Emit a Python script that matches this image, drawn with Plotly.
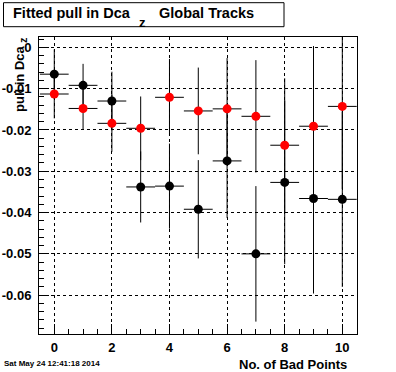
import plotly.graph_objects as go

# ---- data ----
n_bad = [0, 1, 2, 3, 4, 5, 6, 7, 8, 9, 10]
x_half_width = [0.5] * 11

black_pull = [-0.0065, -0.0092, -0.0130, -0.0338, -0.0336, -0.0392,
              -0.0275, -0.0500, -0.0327, -0.0366, -0.0368]
black_err = [0.0060, 0.0052, 0.0071, 0.0086, 0.0103, 0.0119,
             0.0138, 0.0164, 0.0198, 0.0230, 0.0212]

red_pull = [-0.0113, -0.0148, -0.0184, -0.0196, -0.0121, -0.0154,
            -0.0149, -0.0167, -0.0237, -0.0191, -0.0143]
red_err = [0.0059, 0.0052, 0.0069, 0.0077, 0.0093, 0.0105,
           0.0123, 0.0136, 0.0162, 0.0194, 0.0200]

x_tickvals = [0, 2, 4, 6, 8, 10]
x_ticktext = ["0", "2", "4", "6", "8", "10"]
y_tickvals = [0, -0.01, -0.02, -0.03, -0.04, -0.05, -0.06]
y_ticktext = ["0", "-0.01", "-0.02", "-0.03", "-0.04", "-0.05", "-0.06"]

title_main = "Fitted pull in Dca"
title_sub = "z"
title_rest = "Global Tracks"
x_title = "No. of Bad Points"
y_title = "pull in Dca"
y_title_sub = "z"
date_text = "Sat May 24 12:41:18 2014"

FONT = "Liberation Sans, Arial, Helvetica, sans-serif"

W, H = 396, 372
L, R, T, B = 39, 357, 37, 334  # plot frame in pixels


def px(xp):
    return (xp - L) / (R - L)


def py(yp):
    return (B - yp) / (B - T)


fig = go.Figure()
for yv, ev, col in [(black_pull, black_err, "black"), (red_pull, red_err, "#ff0000")]:
    fig.add_trace(go.Scatter(
        x=n_bad, y=yv, mode="markers",
        marker=dict(color=col, size=9, line=dict(width=0)),
        error_y=dict(type="data", array=ev, color="black", thickness=1, width=0),
        error_x=dict(type="data", array=x_half_width, color="black", thickness=1, width=0),
        showlegend=False, hoverinfo="skip",
    ))

axis_common = dict(
    automargin=False,
    showline=True, mirror=True, linecolor="black", linewidth=1,
    ticks="inside", ticklen=10, tickcolor="black", tickwidth=1,
    showgrid=True, gridcolor="black", gridwidth=1, griddash="dot",
    zeroline=False,
    tickfont=dict(family=FONT, size=13, color="black", weight="bold"),
)

fig.update_xaxes(
    range=[-0.53, 10.51],
    tickmode="array", tickvals=x_tickvals, ticktext=x_ticktext,
    ticklabelstandoff=1,
    minor=dict(ticks="inside", ticklen=5, tickcolor="black", tickwidth=1,
               tickmode="linear", tick0=0, dtick=0.5, showgrid=False),
    **axis_common,
)
fig.update_yaxes(
    range=[-0.0694, 0.0025],
    tickmode="array", tickvals=y_tickvals, ticktext=y_ticktext,
    ticklabelstandoff=4,
    minor=dict(ticks="inside", ticklen=5, tickcolor="black", tickwidth=1,
               tickmode="linear", tick0=0, dtick=0.002, showgrid=False),
    **axis_common,
)

bold = dict(family=FONT, color="black", weight="bold")
annotations = [
    dict(x=px(11), y=py(12.5), text=title_main, xanchor="left", yanchor="middle",
         font=dict(size=14.5, **bold)),
    dict(x=px(142.5), y=py(22.5), text=title_sub, xanchor="center", yanchor="middle",
         font=dict(size=13, **bold)),
    dict(x=px(157), y=py(12.5), text=title_rest, xanchor="left", yanchor="middle",
         font=dict(size=14.5, **bold)),
    dict(x=px(349), y=py(364.5), text=x_title, xanchor="right", yanchor="middle",
         font=dict(size=13, **bold)),
    dict(x=px(19), y=py(79), text=y_title, textangle=-90, xanchor="center", yanchor="middle",
         font=dict(size=13, **bold)),
    dict(x=px(23), y=py(40), text=y_title_sub, textangle=-90, xanchor="center", yanchor="middle",
         font=dict(size=11, **bold)),
    dict(x=px(2), y=py(363), text=date_text, xanchor="left", yanchor="middle",
         font=dict(size=8, **bold)),
]
for a in annotations:
    a.update(xref="paper", yref="paper", showarrow=False)

fig.update_layout(
    width=W, height=H,
    margin=dict(l=L, r=W - R, t=T, b=H - B, pad=0, autoexpand=False),
    paper_bgcolor="white", plot_bgcolor="white",
    annotations=annotations,
    shapes=[dict(type="rect", xref="paper", yref="paper",
                 x0=px(3.5), x1=px(284), y0=py(26.7), y1=py(2.7),
                 line=dict(color="black", width=1), fillcolor="rgba(0,0,0,0)")],
)

fig.write_html(
    "out.html",
    config={"displayModeBar": False},
    post_script="document.body.style.margin='0';document.body.style.padding='0';",
)
